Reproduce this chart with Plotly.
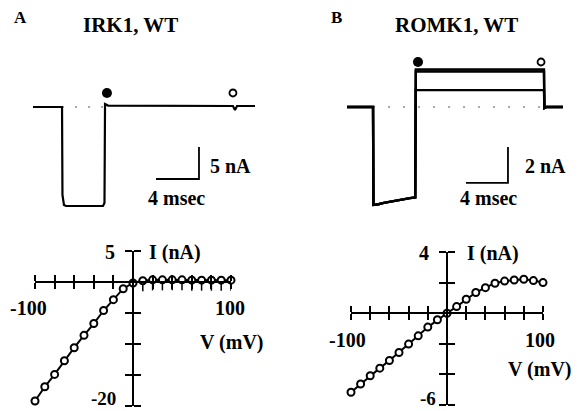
import plotly.graph_objects as go

W, H = 577, 411

# ---------------- data ----------------
V_MV = [-100, -90, -80, -70, -60, -50, -40, -30, -20, -10, 0,
        10, 20, 30, 40, 50, 60, 70, 80, 90, 100]
IRK1_I = [-19.2, -16.9, -14.9, -12.7, -10.6, -8.6, -6.7, -4.6, -2.85, -1.08, -0.16,
          0.2, 0.35, 0.35, 0.35, 0.35, 0.3, 0.3, 0.3, 0.3, 0.3]
IRK1_ERR_MINUS = [0] * 11 + [1.7] * 10
ROMK1_I = [-5.17, -4.63, -4.09, -3.59, -3.09, -2.57, -2.02, -1.48, -0.91, -0.43, 0.0,
           0.43, 0.91, 1.35, 1.67, 1.96, 2.1, 2.17, 2.22, 2.13, 2.0]

IV_XTICKS = [-100, -80, -60, -40, -20, 0, 20, 40, 60, 80, 100]
IRK1_YTICKS = [5, 0, -5, -10, -15, -20]
ROMK1_YTICKS = [4, 2, 0, -2, -4, -6]

# current traces (time in ms, current in nA)
IRK1_T = [0, 2.70, 2.74, 2.88, 3.07, 6.51, 6.65, 6.70, 6.98, 18.6, 18.79, 18.98, 20.65]
IRK1_TR = [0, 0, -13.75, -15.3, -15.47, -15.47, -15.0, 0.47, 0.23, 0.16, -0.47, 0.16, 0.16]
IRK1_ZERO_T = [2.7, 6.7]
IRK1_MARK_T = [6.88, 18.6]
IRK1_MARK_I = [2.19, 2.19]

ROMK1_PRE_T = [0, 2.48, 2.52, 2.67, 3.0, 3.5, 4.0, 4.5, 5.0, 5.5, 6.0, 6.5]
ROMK1_PRE_I = [0, 0, -5.44, -5.44, -5.40, -5.33, -5.27, -5.21, -5.15, -5.10, -5.06, -5.02]
ROMK1_POST_T = [6.55, 18.76, 18.80, 19.0, 20.57]
ROMK1_LEVELS = [2.08, 1.97, 0.94]
ROMK1_ZERO_T = [2.48, 18.76]
ROMK1_MARK_T = [6.76, 18.48]
ROMK1_MARK_I = [2.5, 2.5]

# ---------------- helpers ----------------
def px(x):
    return x / W

def py(y):
    return 1 - y / H

def panel(box, x0, kx, y0, ky):
    l, t, r, b = box
    xa = dict(domain=[px(l), px(r)], range=[(l - x0) / kx, (r - x0) / kx])
    ya = dict(domain=[py(b), py(t)], range=[(y0 - b) / ky, (y0 - t) / ky])
    return xa, ya

fig = go.Figure()
BLACK = "black"
FONT = dict(family="Liberation Serif", size=20, color=BLACK, weight="bold")

# ---------------- top trace panels ----------------
xa1, ya1 = panel((0, 0, 288, 225), 33, 10.75, 107, 6.4)
xa2, ya2 = panel((289, 0, 577, 225), 347, 10.5, 107, 18.0)

MARKS = dict(size=[10, 7], color=[BLACK, "white"], symbol="circle", opacity=1,
             line=dict(color=BLACK, width=[0, 1.8]))

# IRK1 trace
fig.add_trace(go.Scatter(x=IRK1_ZERO_T, y=[0, 0], mode="lines", xaxis="x", yaxis="y",
                         line=dict(color="#555", width=1, dash="2px,11px")))
fig.add_trace(go.Scatter(x=IRK1_T, y=IRK1_TR, mode="lines", xaxis="x", yaxis="y",
                         line=dict(color=BLACK, width=2.2)))
fig.add_trace(go.Scatter(x=IRK1_MARK_T, y=IRK1_MARK_I, mode="markers", xaxis="x", yaxis="y",
                         cliponaxis=False, marker=MARKS))
# scale bar IRK1 (4 ms, 5 nA)
SB1_T, SB1_I = 15.44, -11.25
fig.add_trace(go.Scatter(x=[SB1_T - 4, SB1_T, SB1_T], y=[SB1_I, SB1_I, SB1_I + 5], mode="lines",
                         xaxis="x", yaxis="y", line=dict(color=BLACK, width=1.8)))

# ROMK1 traces
fig.add_trace(go.Scatter(x=ROMK1_ZERO_T, y=[0, 0], mode="lines", xaxis="x2", yaxis="y2",
                         line=dict(color="#555", width=1, dash="2px,13px")))
for lev in ROMK1_LEVELS:
    fig.add_trace(go.Scatter(x=ROMK1_PRE_T + ROMK1_POST_T,
                             y=ROMK1_PRE_I + [lev, lev, -0.06, 0, 0],
                             mode="lines", xaxis="x2", yaxis="y2",
                             line=dict(color=BLACK, width=2.4)))
fig.add_trace(go.Scatter(x=ROMK1_MARK_T, y=ROMK1_MARK_I, mode="markers", xaxis="x2", yaxis="y2",
                         cliponaxis=False, marker=MARKS))
SB2_T, SB2_I = 15.33, -4.22
fig.add_trace(go.Scatter(x=[SB2_T - 4, SB2_T, SB2_T], y=[SB2_I, SB2_I, SB2_I + 2], mode="lines",
                         xaxis="x2", yaxis="y2", line=dict(color=BLACK, width=1.8)))

# ---------------- IV panels ----------------
def iv_axes(xbox, ybox, xr, yr, yticks):
    xd = [px(xbox[0]), px(xbox[1])]
    yd = [py(ybox[1]), py(ybox[0])]
    xpos = yd[0] + (0 - yr[0]) / (yr[1] - yr[0]) * (yd[1] - yd[0])
    ypos = xd[0] + (0 - xr[0]) / (xr[1] - xr[0]) * (xd[1] - xd[0])
    common = dict(showgrid=False, zeroline=False, showline=True, linecolor=BLACK, linewidth=2,
                  ticks="outside", tickwidth=2, tickcolor=BLACK, showticklabels=False,
                  anchor="free", fixedrange=True)
    xa = dict(common, domain=xd, range=xr, position=xpos, tickvals=IV_XTICKS, ticklen=6, side="bottom")
    ya = dict(common, domain=yd, range=yr, position=ypos, tickvals=yticks, ticklen=7, side="left")
    xo = dict(xa, side="top")
    yo = dict(ya, side="right")
    return xa, ya, xo, yo

xa3, ya3, xa5, ya5 = iv_axes((35, 231), (251, 406), [-100, 100], [-20, 5], IRK1_YTICKS)
xa4, ya4, xa6, ya6 = iv_axes((351, 543), (252, 405), [-100, 100], [-6, 4], ROMK1_YTICKS)
xa5["overlaying"] = "x3"
ya5["overlaying"] = "y3"
xa6["overlaying"] = "x4"
ya6["overlaying"] = "y4"

IVMARK = dict(size=7, color="white", symbol="circle", line=dict(color=BLACK, width=2))
fig.add_trace(go.Scatter(x=V_MV, y=IRK1_I, mode="lines+markers", xaxis="x3", yaxis="y3",
                         cliponaxis=False, line=dict(color=BLACK, width=2), marker=IVMARK,
                         error_y=dict(type="data", symmetric=False, array=[0] * len(V_MV),
                                      arrayminus=IRK1_ERR_MINUS, color=BLACK, thickness=1.5, width=0)))
fig.add_trace(go.Scatter(x=V_MV, y=ROMK1_I, mode="lines+markers", xaxis="x4", yaxis="y4",
                         cliponaxis=False, line=dict(color=BLACK, width=2), marker=IVMARK))
# overlay subplots (carry the opposite-side tick halves)
fig.add_trace(go.Scatter(x=[0], y=[0], mode="markers", xaxis="x5", yaxis="y5",
                         marker=dict(opacity=0), hoverinfo="skip"))
fig.add_trace(go.Scatter(x=[0], y=[0], mode="markers", xaxis="x6", yaxis="y6",
                         marker=dict(opacity=0), hoverinfo="skip"))

hidden = dict(visible=False, fixedrange=True)
fig.update_layout(
    width=W, height=H, margin=dict(l=0, r=0, t=0, b=0),
    paper_bgcolor="white", plot_bgcolor="rgba(0,0,0,0)", showlegend=False,
    xaxis=dict(hidden, **xa1), yaxis=dict(hidden, **ya1),
    xaxis2=dict(hidden, **xa2), yaxis2=dict(hidden, **ya2),
    xaxis3=dict(xa3, layer="below traces"), yaxis3=dict(ya3, layer="below traces"),
    xaxis4=dict(xa4, layer="below traces"), yaxis4=dict(ya4, layer="below traces"),
    xaxis5=xa5, yaxis5=ya5, xaxis6=xa6, yaxis6=ya6,
)

# ---------------- text ----------------
def label(text, x, y, xanchor="center", size=20, yanchor="middle"):
    fig.add_annotation(text=text, x=px(x), y=py(y), xref="paper", yref="paper",
                       xanchor=xanchor, yanchor=yanchor, showarrow=False,
                       font=dict(FONT, size=size))

label("A", 20, 18, size=17)
label("IRK1, WT", 130, 25, size=21)
label("B", 336, 18, size=17)
label("ROMK1, WT", 456, 25, size=21)
label("5 nA", 230, 166)
label("4 msec", 176, 198)
label("2 nA", 545, 166)
label("4 msec", 488, 198)

label("5", 117, 252, xanchor="right")
label("I (nA)", 147, 252, xanchor="left")
label("-100", 28, 308)
label("100", 230, 308)
label("V (mV)", 232, 342)
label("-20", 118, 411, xanchor="right", size=19, yanchor="bottom")

label("4", 431, 253, xanchor="right")
label("I (nA)", 465, 253, xanchor="left")
label("-100", 347, 340)
label("100", 540, 340)
label("V (mV)", 540, 369)
label("-6", 438, 411, xanchor="right", size=19, yanchor="bottom")

fig.write_html("out.html", post_script="document.body.style.margin='0';",
               config={"displayModeBar": False})
